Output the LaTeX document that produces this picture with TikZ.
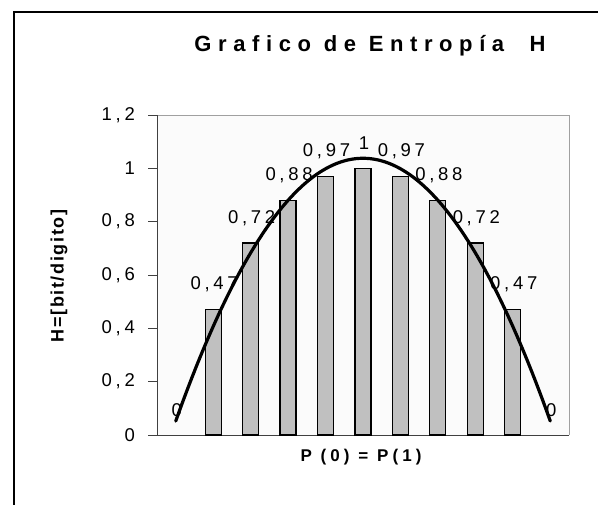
\documentclass[tikz,border=0pt]{standalone}
\usepackage{fontspec}
\setmainfont{Liberation Sans}
\newfontfamily\chartfont[LetterSpace=20]{Liberation Sans}
\newfontfamily\headfont[LetterSpace=30]{Liberation Sans}
\newfontfamily\axisfont[LetterSpace=24]{Liberation Sans}
\newfontfamily\sidefont[LetterSpace=9]{Liberation Sans}
\usepackage{tikz}

\definecolor{barfill}{HTML}{C0C0C0}
\definecolor{plotbg}{HTML}{FBFBFB}
\definecolor{framegray}{HTML}{A0A0A0}
\definecolor{axisgray}{HTML}{404040}

\tikzset{
  bar/.style={draw=black, fill=barfill, line width=1.2pt},
  vallabel/.style={font=\chartfont\fontsize{18.5}{21}\selectfont, inner sep=0pt},
  ticklabel/.style={font=\chartfont\fontsize{18.5}{21}\selectfont, inner sep=0pt, anchor=east},
  trend/.style={line width=3.2pt, line cap=round, line join=round}
}

\begin{document}
\begin{tikzpicture}[x=1pt, y=-1pt]
    \useasboundingbox (0,0) rectangle (604,504);
    % outer frame
    \draw[line width=2pt] (14,506) -- (14,12) -- (598,12);
    % plot area
    \fill[plotbg] (157,115) rectangle (569,435);
    \draw[framegray, line width=1pt] (157,115) -- (569,115) -- (569,435);
    \draw[axisgray, line width=1pt] (148,435) -- (569,435);
    \draw[axisgray, line width=1pt] (157,435) -- (157,115);
    \foreach \k/\txt in {0/0, 1/{0,2}, 2/{0,4}, 3/{0,6}, 4/{0,8}, 5/1, 6/{1,2}} {
        \draw[axisgray, line width=1pt] (148,{435-53.33*\k}) -- (157,{435-53.33*\k});
        \node[ticklabel] (tick\k) at (135,{435-53.33*\k}) {\txt};
    }
    % bars
    \foreach \i/\v in {1/0.47, 2/0.72, 3/0.88, 4/0.97, 5/1, 6/0.97, 7/0.88, 8/0.72, 9/0.47}
        \draw[bar] ({157+37.45*(\i+0.5)-8},435) rectangle ({157+37.45*(\i+0.5)+8},{435-266.67*\v});
    % data labels
    \foreach \i/\v/\txt in {0/0/0, 1/0.47/{0,47}, 2/0.72/{0,72}, 3/0.88/{0,88}, 4/0.97/{0,97},
        5/1/1, 6/0.97/{0,97}, 7/0.88/{0,88}, 8/0.72/{0,72}, 9/0.47/{0,47}, 10/0/0}
        \node[vallabel] (val\i) at ({157+37.45*(\i+0.5)+1},{410-266.67*\v}) {\txt};
    % trend line
    \draw[trend] plot[domain=-5:5, samples=51, smooth]
        ({363+37.45*\x},{435-266.67*(1.0378-0.03942*\x*\x)});
    % titles
    \node[font=\headfont\bfseries\fontsize{22}{26}\selectfont] (title) at (370,46) {Grafico de Entropía\ \ H};
    \node[font=\sidefont\bfseries\fontsize{18}{21}\selectfont, rotate=90] (ytitle) at (59,276) {H=[bit/digito]};
    \node[font=\axisfont\bfseries\fontsize{17}{20}\selectfont] (xtitle) at (361,457) {P (0) = P(1)};
\end{tikzpicture}
\end{document}
